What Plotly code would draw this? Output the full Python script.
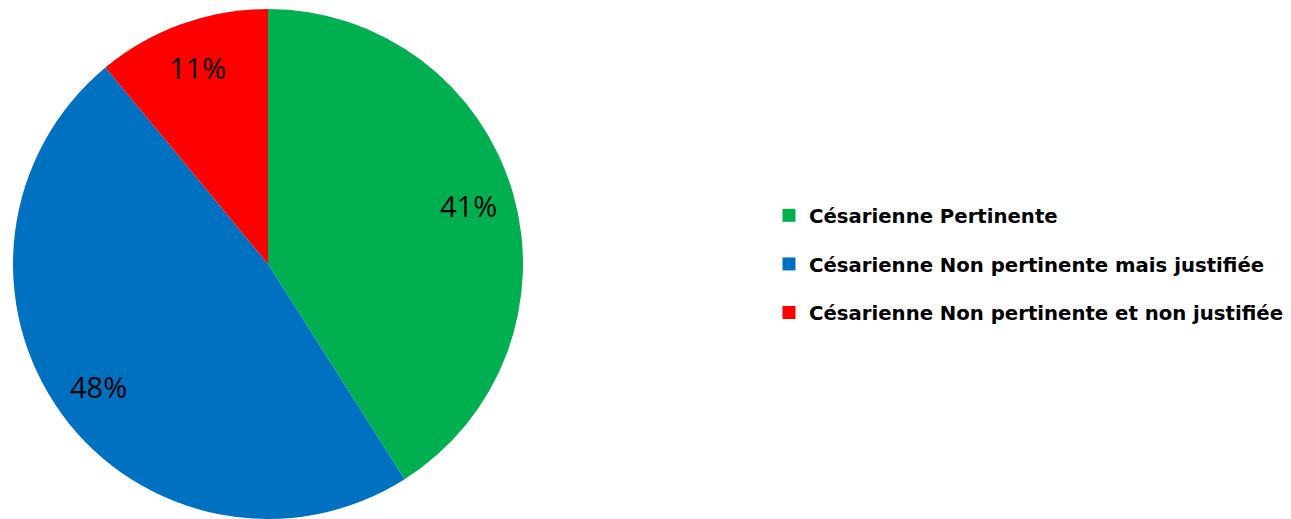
import math
import plotly.graph_objects as go

categories = ["Césarienne Pertinente",
              "Césarienne Non pertinente mais justifiée",
              "Césarienne Non pertinente et non justifiée"]
values = [41, 48, 11]
colors = ["#00B050", "#0070C0", "#FF0000"]

W, H = 1291, 519
OFF = 8  # page body margin compensation
CX, CY, R = 268 - OFF, 264 - OFF, 255
LABEL_R = 0.82

fig = go.Figure()
fig.add_trace(go.Pie(
    labels=categories,
    values=values,
    sort=False,
    direction="clockwise",
    rotation=0,
    marker=dict(colors=colors, line=dict(width=0)),
    textinfo="none",
    hoverinfo="label+percent",
    domain=dict(x=[(CX - R) / W, (CX + R) / W], y=[(H - CY - R) / H, (H - CY + R) / H]),
    showlegend=False,
))

# legend entries (one per category, matching slice colours)
for i, (cat, col) in enumerate(zip(categories, colors)):
    fig.add_trace(go.Scatter(
        x=[None], y=[None], mode="markers", name=cat,
        marker=dict(symbol="square", size=13, color=col),
        legendgroup=f"g{i}", showlegend=True, hoverinfo="skip",
    ))

# percentage labels at mid-angle of each slice
total = sum(values)
cum = 0
annotations = []
for v in values:
    mid = (cum + v / 2) / total * 2 * math.pi
    cum += v
    px = CX + LABEL_R * R * math.sin(mid)
    py = CY - LABEL_R * R * math.cos(mid)
    annotations.append(dict(
        x=px / W, y=1 - py / H, xref="paper", yref="paper",
        text=f"{round(v / total * 100)}%", showarrow=False,
        font=dict(family="Open Sans", size=29, color="#000000"),
        xanchor="center", yanchor="middle",
    ))

fig.update_layout(
    width=W, height=H,
    margin=dict(l=0, r=0, t=0, b=0),
    paper_bgcolor="white",
    plot_bgcolor="white",
    xaxis=dict(visible=False),
    yaxis=dict(visible=False),
    annotations=annotations,
    legend=dict(
        x=(809 - OFF - 40) / W, y=1 - (264 - OFF) / H, xanchor="left", yanchor="middle",
        font=dict(family="DejaVu Sans", size=19.7, color="#000000", weight="bold"),
        traceorder="grouped", tracegroupgap=20, itemwidth=30,
        bgcolor="rgba(0,0,0,0)",
    ),
)

fig.write_html("out.html")
